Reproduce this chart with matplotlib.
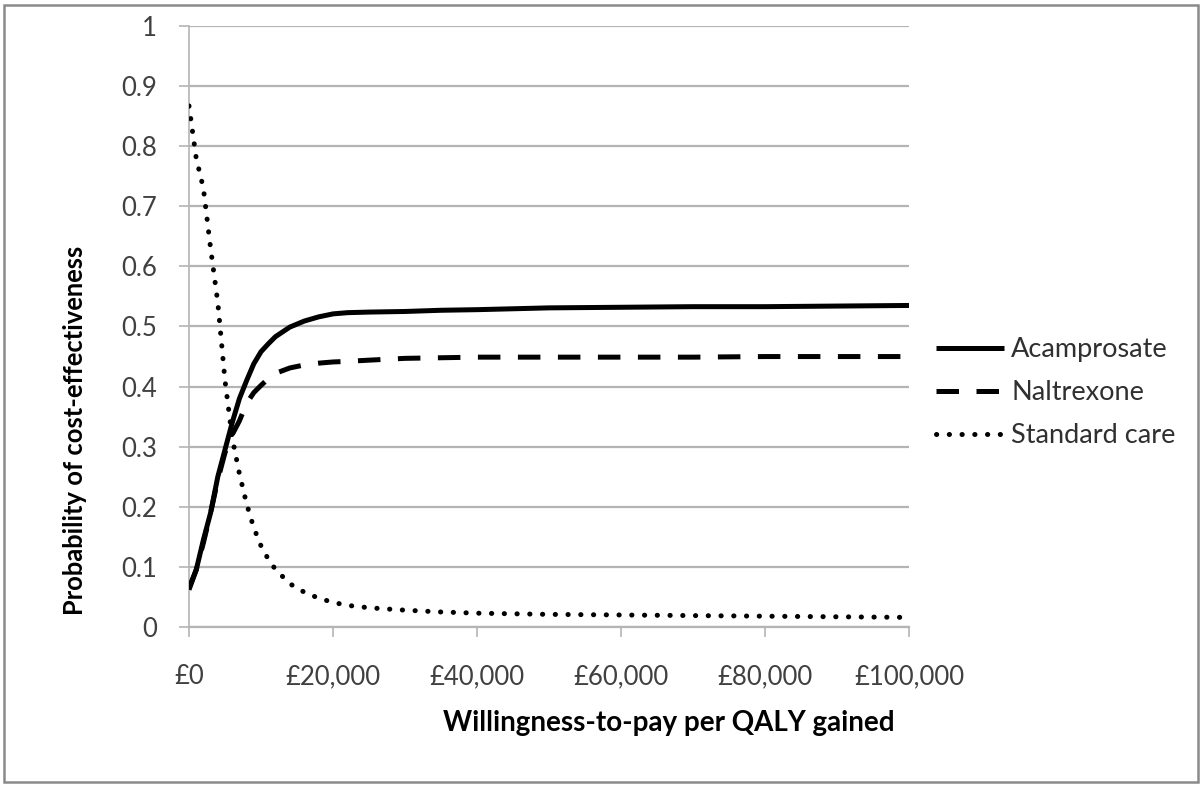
import matplotlib
matplotlib.use("Agg")
import matplotlib.pyplot as plt
from matplotlib.patches import Rectangle
from matplotlib.ticker import FuncFormatter, MultipleLocator

wtp = [0, 1000, 2000, 3000, 4000, 5000, 6000, 7000, 8000, 9000, 10000, 11000,
       12000, 14000, 16000, 18000, 20000, 22000, 25000, 30000, 35000, 40000,
       50000, 60000, 70000, 80000, 90000, 100000]
acamprosate = [0.062, 0.095, 0.145, 0.19, 0.25, 0.295, 0.34, 0.38, 0.41, 0.438,
               0.458, 0.471, 0.483, 0.499, 0.509, 0.516, 0.521, 0.523, 0.524,
               0.525, 0.527, 0.528, 0.531, 0.532, 0.533, 0.533, 0.534, 0.535]
naltrexone = [0.065, 0.095, 0.14, 0.19, 0.245, 0.29, 0.32, 0.343, 0.372, 0.39,
              0.402, 0.413, 0.422, 0.431, 0.436, 0.439, 0.441, 0.442, 0.444,
              0.447, 0.448, 0.449, 0.449, 0.449, 0.449, 0.45, 0.45, 0.45]
standard_care = [0.867, 0.78, 0.73, 0.63, 0.54, 0.41, 0.315, 0.255, 0.205, 0.165,
                 0.135, 0.113, 0.096, 0.072, 0.058, 0.048, 0.041, 0.036, 0.032,
                 0.028, 0.025, 0.023, 0.021, 0.02, 0.019, 0.018, 0.017, 0.016]
series_names = ["Acamprosate", "Naltrexone", "Standard care"]

FONT = ["Lato", "DejaVu Sans"]
plt.rcParams['font.family'] = FONT

fig = plt.figure(figsize=(12.03, 7.87), dpi=100)
ax = fig.add_axes([189/1203, (787-627)/787, 720/1203, 601/787])

lw = 3.6
ax.plot(wtp, acamprosate, color="black", lw=lw, solid_capstyle="butt",
        label=series_names[0], zorder=3)
ax.plot(wtp, naltrexone, color="black", lw=lw, linestyle=(0, (4.5, 3.5)),
        dash_capstyle="butt", label=series_names[1], zorder=3)
ax.plot(wtp, standard_care, color="black", lw=lw, linestyle=(0, (0.05, 2.5)),
        dash_capstyle="round", label=series_names[2], zorder=3)

ax.set_xlim(0, 100000)
ax.set_ylim(0, 1)
ax.xaxis.set_major_locator(MultipleLocator(20000))
ax.yaxis.set_major_locator(MultipleLocator(0.1))
ax.xaxis.set_major_formatter(FuncFormatter(lambda v, p: "£{:,.0f}".format(v)))
ax.yaxis.set_major_formatter(FuncFormatter(lambda v, p: "{:g}".format(round(v, 1))))

gc = "#b4b4b4"
ax.grid(axis="y", color=gc, lw=1.6, zorder=0)
ax.set_axisbelow(True)
for s in ["top", "right"]:
    ax.spines[s].set_visible(False)
ax.spines["left"].set_color(gc)
ax.spines["bottom"].set_color(gc)
ax.spines["left"].set_linewidth(1.2)
ax.spines["bottom"].set_linewidth(1.6)
ax.tick_params(axis="both", direction="out", length=7, width=1.2, color=gc,
               labelsize=18.5, labelcolor="#404040")
ax.tick_params(axis="x", pad=20)
ax.tick_params(axis="y", pad=16)

ax.set_xlabel("Willingness-to-pay per QALY gained", fontsize=20,
              fontweight="bold")
ax.xaxis.set_label_coords((669-189)/720, -(723-627)/601)
ax.xaxis.label.set_va("center")
ax.set_ylabel("Probability of cost-effectiveness", fontsize=18.4,
              fontweight="bold")
ax.yaxis.set_label_coords(-(189-75)/720, (627-430)/601)
ax.yaxis.label.set_va("center")

leg = ax.legend(loc="center left", bbox_to_anchor=(1.004, 0.39), frameon=False,
                fontsize=19.5, handlelength=2.5, handletextpad=0.26,
                labelspacing=0.66, labelcolor="#303030")

fig.patches.append(Rectangle((4/1203, 5/787), 1194/1203, 777/787,
                             transform=fig.transFigure, fill=False,
                             edgecolor="#8a8a8a", lw=1.8))

fig.savefig("out.png", dpi=100)
